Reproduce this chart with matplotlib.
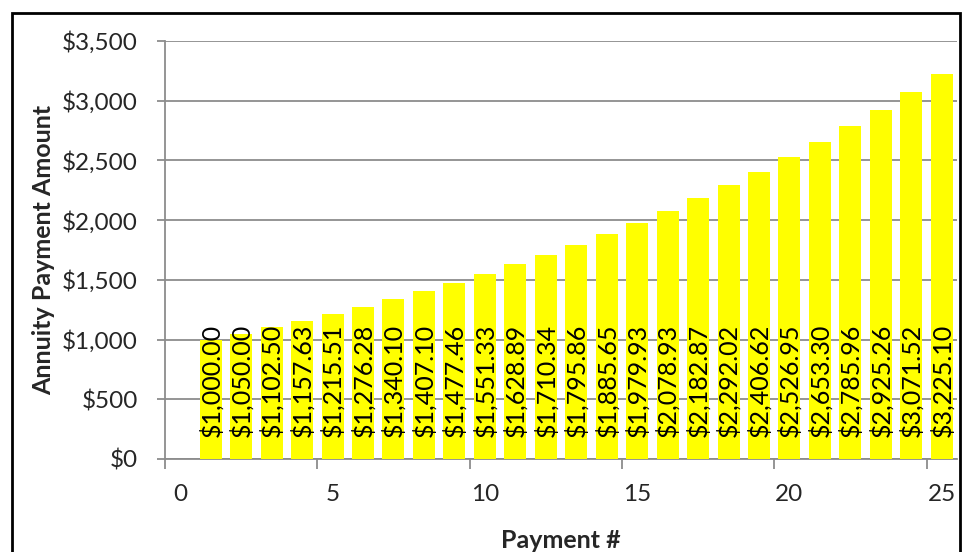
import matplotlib.pyplot as plt
from matplotlib.patches import Rectangle
import numpy as np

# annuity payments
payments = list(range(1, 26))
amounts = [1000.00, 1050.00, 1102.50, 1157.63, 1215.51, 1276.28, 1340.10, 1407.10,
           1477.46, 1551.33, 1628.89, 1710.34, 1795.86, 1885.65, 1979.93, 2078.93,
           2182.87, 2292.02, 2406.62, 2526.95, 2653.30, 2785.96, 2925.26, 3071.52,
           3225.10]
yticks = [0, 500, 1000, 1500, 2000, 2500, 3000, 3500]
xticks = [0, 5, 10, 15, 20, 25]

plt.rcParams['font.family'] = ['Lato', 'DejaVu Sans']
grey = '#8c8c8c'
txt = '#262626'

fig = plt.figure(figsize=(9.64, 5.52), dpi=100)
ax = fig.add_axes([165 / 964, 1 - 459 / 552, (957 - 165) / 964, (459 - 41) / 552])

# excel puts each column in the middle of its unit bin
xpos = np.array(payments) + 0.5
ax.bar(xpos, amounts, width=0.72, color='#ffff00', zorder=3)

for x, v in zip(xpos, amounts):
    ax.annotate('${:,.2f}'.format(v), xy=(x, 0), xytext=(0, 16),
                textcoords='offset points', rotation=90, ha='center', va='bottom',
                fontsize=18, color='black', zorder=4)

ax.set_xlim(0, 26)
ax.set_ylim(0, 3500)
ax.set_yticks(yticks)
ax.set_yticklabels(['${:,}'.format(v) for v in yticks])
ax.set_xticks(xticks)
ax.set_xticklabels([])
ax.set_xticks([t + 0.5 for t in xticks], minor=True)
ax.set_xticklabels([str(t) for t in xticks], minor=True)

ax.tick_params(axis='y', length=6, width=1.3, color=grey, labelsize=17.5,
               labelcolor=txt, pad=13.5)
ax.tick_params(axis='x', which='major', length=7.5, width=1.3, color=grey)
ax.tick_params(axis='x', which='minor', length=0, labelsize=17.5, labelcolor=txt, pad=18)

ax.grid(axis='y', color=grey, lw=1.3, zorder=0)
for s in ['top', 'right']:
    ax.spines[s].set_visible(False)
for s in ['left', 'bottom']:
    ax.spines[s].set_color(grey)
    ax.spines[s].set_linewidth(1.3)

ax.set_xlabel('Payment #', fontsize=18, fontweight='bold', color=txt, labelpad=17)
ax.set_ylabel('Annuity Payment Amount', fontsize=18, fontweight='bold', color=txt,
              labelpad=5)

# outer chart border
fig.patches.append(Rectangle((12 / 964, -0.05), (960 - 12) / 964, 1 - 13 / 552 + 0.05,
                             transform=fig.transFigure, fill=False, ec='black', lw=2))

fig.savefig('out.png', dpi=100)
